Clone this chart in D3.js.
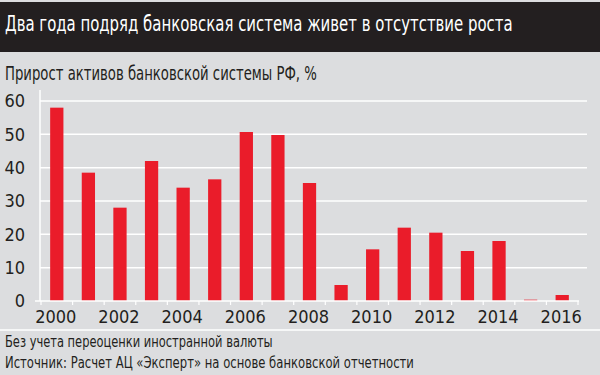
<!DOCTYPE html>
<html>
<head>
<meta charset="utf-8">
<script src="https://cdn.jsdelivr.net/npm/d3@7"></script>
<style>
  body { margin: 0; background: #dcdddf; }
  svg text { font-family: "Liberation Sans Narrow", "DejaVu Sans Condensed", "Roboto", sans-serif; }
</style>
</head>
<body>
<svg id="chart" width="600" height="375"></svg>
<script>
// years and asset growth, %
var years = [2000, 2001, 2002, 2003, 2004, 2005, 2006, 2007, 2008,
             2009, 2010, 2011, 2012, 2013, 2014, 2015, 2016];
var growth = [58, 38.5, 28, 42, 34, 36.5, 50.7, 49.8, 35.4,
              4.8, 15.5, 22, 20.5, 15, 18, 0.4, 1.8];
var yTicks = [0, 10, 20, 30, 40, 50, 60];
var xLabels = [2000, 2002, 2004, 2006, 2008, 2010, 2012, 2014, 2016];

var title = "Два года подряд банковская система живет в отсутствие роста";
var subtitle = "Прирост активов банковской системы РФ, %";
var notes = ["Без учета переоценки иностранной валюты",
             "Источник: Расчет АЦ «Эксперт» на основе банковской отчетности"];

var svg = d3.select("#chart");

// squeeze a text horizontally so it spans the given width
function fit(sel, x0, y0, w) {
  var nat = sel.node().getComputedTextLength();
  sel.attr("x", 0).attr("y", 0)
    .attr("transform", "translate(" + x0 + "," + y0 + ") scale(" + (w / nat) + ",1)");
}

// background + title bar
svg.append("rect").attr("width", 600).attr("height", 375).attr("fill", "#dcdddf");
svg.append("rect").attr("x", 0).attr("y", 2).attr("width", 600).attr("height", 50)
  .attr("fill", "#231f20");

svg.append("text")
  .attr("font-size", 21)
  .attr("fill", "#ffffff")
  .text(title)
  .call(fit, 5, 31, 508);

svg.append("text")
  .attr("font-size", 19)
  .attr("fill", "#231f20")
  .text(subtitle)
  .call(fit, 5, 80, 312);

/*** scales ***/
var x = d3.scaleBand()
  .domain(years)
  .range([41, 578])
  .paddingInner(0.58)
  .paddingOuter(0.29);

var y = d3.scaleLinear()
  .domain([0, 60])
  .range([301, 101]);

var step = x.step();

// gridlines
svg.append("g")
  .selectAll("line")
  .data(yTicks.filter(d => d > 0))
  .join("line")
  .attr("x1", 40).attr("x2", 587)
  .attr("y1", d => y(d)).attr("y2", d => y(d))
  .attr("stroke", "#ffffff")
  .attr("stroke-width", 1.5);

// y axis line
svg.append("line")
  .attr("x1", 40).attr("x2", 40)
  .attr("y1", 90).attr("y2", y(0))
  .attr("stroke", "#ffffff").attr("stroke-width", 1.5);

// y labels
svg.append("g")
  .selectAll("text")
  .data(yTicks)
  .join("text")
  .attr("x", 25)
  .attr("y", d => y(d))
  .attr("dy", "0.35em")
  .attr("text-anchor", "end")
  .attr("font-size", 18)
  .attr("fill", "#231f20")
  .text(d => d);

// bars
svg.append("g")
  .selectAll("rect")
  .data(growth)
  .join("rect")
  .attr("x", (d, i) => x(years[i]))
  .attr("width", x.bandwidth())
  .attr("y", d => y(d))
  .attr("height", d => y(0) - y(d))
  .attr("fill", "#ea1c2a");

// x axis line + boundary ticks
var xa = svg.append("g");
xa.append("line")
  .attr("x1", 35).attr("x2", 579)
  .attr("y1", y(0)).attr("y2", y(0))
  .attr("stroke", "#ffffff").attr("stroke-width", 1.5);

var bounds = years.map(d => x(d) - step * 0.29).concat([x(years[years.length - 1]) + x.bandwidth() + step * 0.29]);
xa.selectAll("line.tick")
  .data(bounds)
  .join("line")
  .attr("class", "tick")
  .attr("x1", d => d).attr("x2", d => d)
  .attr("y1", y(0)).attr("y2", y(0) + 4)
  .attr("stroke", "#ffffff").attr("stroke-width", 1.2);

xa.selectAll("text")
  .data(xLabels)
  .join("text")
  .attr("x", d => x(d) + x.bandwidth() / 2 - 1)
  .attr("y", 323)
  .attr("text-anchor", "middle")
  .attr("font-size", 18)
  .attr("fill", "#231f20")
  .text(d => d);

// separator and notes
svg.append("line")
  .attr("x1", 0).attr("x2", 600)
  .attr("y1", 330).attr("y2", 330)
  .attr("stroke", "#ffffff").attr("stroke-width", 1.5);

var noteW = [268, 409];
svg.append("g")
  .selectAll("text")
  .data(notes)
  .join("text")
  .attr("font-size", 15)
  .attr("fill", "#231f20")
  .text(d => d)
  .each(function (d, i) { fit(d3.select(this), 5, 347 + i * 21, noteW[i]); });
</script>
</body>
</html>
